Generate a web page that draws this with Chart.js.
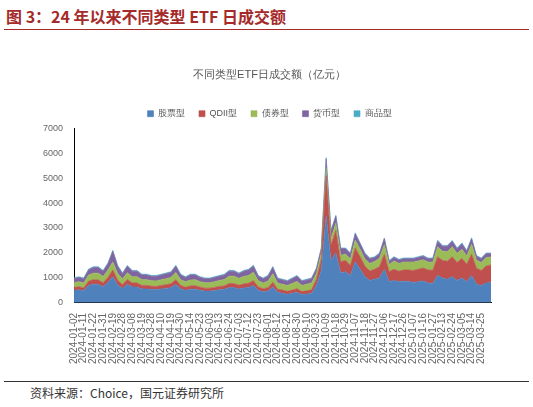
<!DOCTYPE html>
<html>
<head>
<meta charset="utf-8">
<script src="https://cdn.jsdelivr.net/npm/chart.js@4/dist/chart.umd.min.js"></script>
<style>
  body { margin: 0; width: 533px; height: 407px; background: #fff; font-family: "Noto Sans CJK SC", "Noto Sans", sans-serif; position: relative; overflow: hidden; }
  #title { position: absolute; left: 6px; top: 4px; font-size: 16px; font-weight: bold; color: #a52a2a; }
  #topline { position: absolute; left: 4px; right: 4px; top: 29px; border-top: 1px solid #a52a2a; }
  #bottomline { position: absolute; left: 4px; right: 4px; top: 381px; border-top: 1px solid #333; }
  #source { position: absolute; left: 30px; top: 384px; font-size: 12px; color: #333; }
  #wrap { position: absolute; left: 40px; top: 64px; width: 465px; height: 302px; }
</style>
</head>
<body>
<div id="title">图 3：24 年以来不同类型 ETF 日成交额</div>
<div id="topline"></div>
<div id="wrap"><canvas id="etfChart"></canvas></div>
<div id="bottomline"></div>
<div id="source">资料来源：Choice，国元证券研究所</div>
<script>
// tick labels shown on the x axis (one per two data points)
const tickLabels = ['2024-01-02','2024-01-11','2024-01-22','2024-01-31','2024-02-19','2024-02-28','2024-03-08','2024-03-19','2024-03-28','2024-04-10','2024-04-19','2024-04-30','2024-05-14','2024-05-23','2024-06-03','2024-06-13','2024-06-24','2024-07-03','2024-07-12','2024-07-23','2024-08-01','2024-08-12','2024-08-21','2024-08-30','2024-09-10','2024-09-23','2024-10-09','2024-10-18','2024-10-29','2024-11-07','2024-11-18','2024-11-27','2024-12-06','2024-12-17','2024-12-26','2025-01-07','2025-01-16','2025-01-27','2025-02-13','2025-02-24','2025-03-05','2025-03-14','2025-03-25'];

const stockEtf = [500,520,480,700,750,740,650,820,1050,720,
  580,750,640,640,560,560,540,530,560,580,
  610,740,560,500,540,550,500,470,470,490,
  520,540,620,610,560,600,620,700,500,440,
  470,640,420,380,340,380,420,330,350,380,
  700,1300,3500,1700,2000,1200,1250,1100,1650,1350,
  1050,900,950,1000,1350,850,900,850,870,860,
  820,850,880,800,780,1100,1000,950,1050,900,
  1000,850,1100,750,700,800,820];
const qdiiEtf = [120,130,120,170,180,180,160,200,270,190,
  150,190,160,160,140,140,130,130,140,150,
  160,190,140,130,140,140,130,120,120,130,
  140,140,160,160,150,160,170,190,140,130,
  140,190,130,130,120,130,150,120,130,140,
  250,450,1600,600,900,450,450,400,550,500,
  420,380,400,450,600,400,450,420,450,460,
  480,500,520,520,530,750,700,720,800,720,
  780,700,850,640,600,680,700];
const bondEtf = [200,200,200,250,260,270,250,300,320,270,
  230,270,250,250,230,230,220,220,230,240,
  250,290,230,220,240,240,220,220,220,230,
  240,260,290,300,280,300,310,340,250,230,
  260,340,240,240,240,270,290,250,270,280,
  230,250,300,280,300,260,250,260,320,300,
  290,300,310,340,380,290,330,310,320,320,
  340,330,330,320,320,400,370,380,400,360,
  370,330,400,320,320,340,320];
const moneyEtf = [150,170,170,200,230,230,210,250,430,290,
  210,260,220,220,190,190,180,190,190,200,
  200,250,190,170,200,190,170,160,160,170,
  170,180,200,200,180,210,220,240,180,170,
  200,250,180,170,170,190,210,170,170,170,
  190,170,370,290,270,260,220,210,250,220,
  210,190,160,180,240,130,140,140,130,130,
  130,140,140,130,140,220,200,220,220,190,
  220,190,220,160,150,150,130];
const commodityEtf = [30,28,30,32,30,30,28,30,35,30,
  28,30,30,28,30,30,28,30,30,28,
  30,32,30,28,30,30,28,30,30,28,
  30,30,32,30,28,30,30,32,30,28,
  30,32,30,28,30,30,28,30,30,28,
  30,35,50,35,40,32,30,30,35,30,
  30,28,30,30,32,30,30,28,30,30,
  30,30,32,30,30,35,30,30,32,30,
  32,30,35,30,30,30,30];

const categories = stockEtf.map(function (v, i) {
    return i % 2 === 0 && tickLabels[i / 2] ? tickLabels[i / 2] : '';
});

function series(label, data, color, fill) {
    return {
        label: label,
        data: data,
        backgroundColor: color,
        borderColor: color,
        borderWidth: 0.6,
        pointRadius: 0,
        fill: fill,
        tension: 0
    };
}

new Chart(document.getElementById('etfChart'), {
    type: 'line',
    data: {
        labels: categories,
        datasets: [
            series('股票型', stockEtf, '#4f81bd', 'origin'),
            series('QDII型', qdiiEtf, '#c0504d', '-1'),
            series('债券型', bondEtf, '#9bbb59', '-1'),
            series('货币型', moneyEtf, '#8064a2', '-1'),
            series('商品型', commodityEtf, '#4bacc6', '-1')
        ]
    },
    options: {
        responsive: true,
        maintainAspectRatio: false,
        animation: false,
        layout: { padding: { right: 6 } },
        plugins: {
            title: {
                display: true,
                text: '不同类型ETF日成交额（亿元）',
                color: '#555',
                font: { size: 11, weight: 'normal' },
                padding: { top: 4, bottom: 14 }
            },
            legend: {
                position: 'top',
                labels: { boxWidth: 6, boxHeight: 6, padding: 14, color: '#555', font: { size: 9 } }
            },
            tooltip: { enabled: false }
        },
        scales: {
            x: {
                grid: { display: false, drawTicks: true },
                border: { color: '#000' },
                ticks: {
                    autoSkip: false,
                    maxRotation: 90,
                    minRotation: 90,
                    color: '#666',
                    font: { size: 10 },
                    padding: 2
                }
            },
            y: {
                stacked: true,
                min: 0,
                max: 7000,
                grid: { display: false },
                border: { color: '#000' },
                ticks: {
                    stepSize: 1000,
                    color: '#666',
                    font: { size: 9 },
                    callback: function (v) { return String(v); }
                }
            }
        }
    }
});
</script>
</body>
</html>
